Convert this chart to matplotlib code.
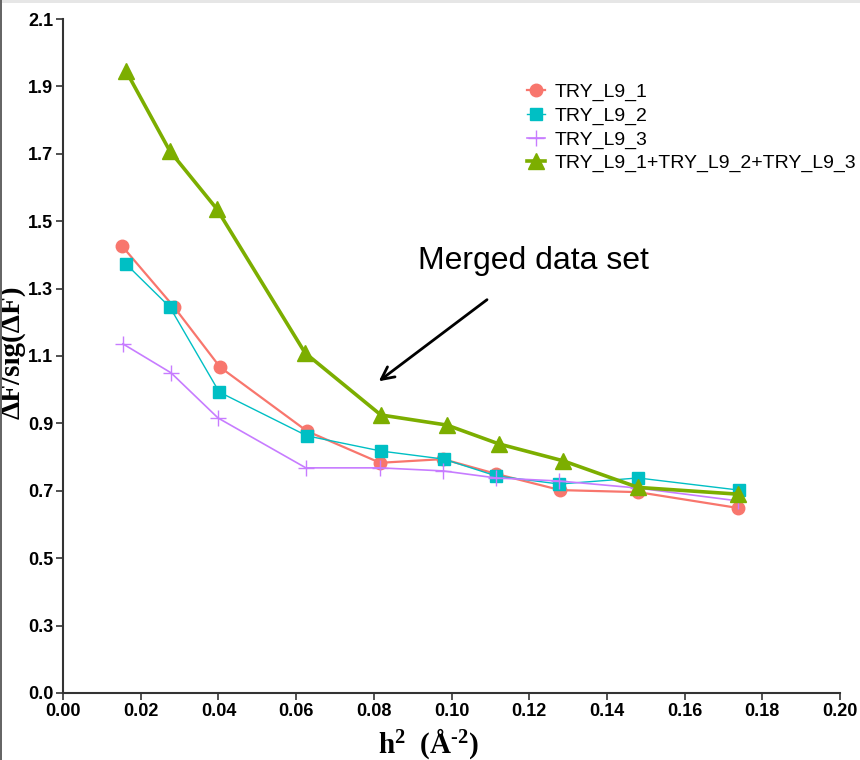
import numpy as np
import matplotlib.pyplot as plt
from matplotlib.patches import Rectangle

# h^2 values (resolution shells) and dF/sig(dF) for each data set
x_l9_1 = [0.0152, 0.0286, 0.0404, 0.0628, 0.0816, 0.0978, 0.1115, 0.1280, 0.1480, 0.1737]
y_l9_1 = [1.426, 1.245, 1.067, 0.877, 0.783, 0.794, 0.750, 0.702, 0.696, 0.649]

x_l9_2 = [0.0162, 0.0275, 0.0402, 0.0628, 0.0818, 0.0980, 0.1115, 0.1277, 0.1480, 0.1740]
y_l9_2 = [1.373, 1.245, 0.993, 0.863, 0.818, 0.794, 0.744, 0.720, 0.738, 0.702]

x_l9_3 = [0.0154, 0.0278, 0.0399, 0.0625, 0.0816, 0.0978, 0.1115, 0.1277, 0.1480, 0.1737]
y_l9_3 = [1.136, 1.050, 0.916, 0.768, 0.768, 0.759, 0.738, 0.729, 0.708, 0.670]

x_merged = [0.0162, 0.0275, 0.0396, 0.0623, 0.0818, 0.0988, 0.1122, 0.1287, 0.1480, 0.1737]
y_merged = [1.946, 1.708, 1.536, 1.109, 0.925, 0.895, 0.839, 0.789, 0.710, 0.690]

x_ticks = [0.00, 0.02, 0.04, 0.06, 0.08, 0.10, 0.12, 0.14, 0.16, 0.18, 0.20]
y_ticks = [0.1, 0.3, 0.5, 0.7, 0.9, 1.1, 1.3, 1.5, 1.7, 1.9, 2.1]
y_tick_labels = ["0.0", "0.3", "0.5", "0.7", "0.9", "1.1", "1.3", "1.5", "1.7", "1.9", "2.1"]

plt.rcParams["mathtext.default"] = "regular"

fig = plt.figure(figsize=(8.6, 7.6), dpi=100)
ax = fig.add_axes([0.0733, 0.0882, 0.9035, 0.8868])

ax.plot(x_l9_1, y_l9_1, color="#F8766D", lw=1.6, marker="o", ms=9, label="TRY_L9_1")
ax.plot(x_l9_2, y_l9_2, color="#00BFC4", lw=1.0, marker="s", ms=9, label="TRY_L9_2")
ax.plot(x_l9_3, y_l9_3, color="#C77CFF", lw=1.2, marker="+", ms=11, mew=1.0, label="TRY_L9_3")
ax.plot(x_merged, y_merged, color="#7CAE00", lw=2.6, marker="^", ms=11,
        label="TRY_L9_1+TRY_L9_2+TRY_L9_3")

ax.set_xlim(0, 0.2)
ax.set_ylim(0.1, 2.1)
ax.set_xticks(x_ticks)
ax.set_xticklabels([f"{t:.2f}" for t in x_ticks])
ax.set_yticks(y_ticks)
ax.set_yticklabels(y_tick_labels)

for side in ["top", "right"]:
    ax.spines[side].set_visible(False)
for side in ["left", "bottom"]:
    ax.spines[side].set_color("#333333")
    ax.spines[side].set_linewidth(1.5)
ax.tick_params(direction="out", length=5, width=1.2, color="#333333", pad=2)
for lab in ax.get_xticklabels() + ax.get_yticklabels():
    lab.set_fontfamily("Liberation Sans")
    lab.set_fontweight("bold")
    lab.set_fontsize(13)

ax.set_xlabel(r"h$^{2}$  (Å$^{-2}$)".replace("-", "\u2010"), family="Liberation Serif",
              weight="bold", fontsize=21, labelpad=2)
ax.xaxis.set_label_coords(0.47, -0.05)
ax.set_ylabel("ΔF/sig(ΔF)", family="Liberation Serif", weight="bold",
              fontsize=21, va="center")
ax.yaxis.set_label_coords(-0.0656, 0.505)

leg = ax.legend(loc="upper left", bbox_to_anchor=(0.575, 0.93), frameon=False,
                prop={"family": "Liberation Sans", "size": 14},
                handlelength=0.9, handletextpad=0.5, labelspacing=0.3)

ax.annotate("", xy=(0.0807, 1.020), xytext=(0.1097, 1.272),
            arrowprops=dict(arrowstyle="->, head_length=0.9, head_width=0.45",
                            color="black", lw=2))
ax.text(0.1212, 1.382, "Merged data set", family="Liberation Sans", fontsize=23,
        ha="center", va="center")

# screenshot frame edges
fig.add_artist(Rectangle((0, 0.996), 1, 0.004, transform=fig.transFigure,
                         color="#e6e6e6", lw=0))
fig.add_artist(Rectangle((0, 0), 0.0025, 1, transform=fig.transFigure,
                         color="#666666", lw=0))

fig.savefig("out.png", dpi=100)
